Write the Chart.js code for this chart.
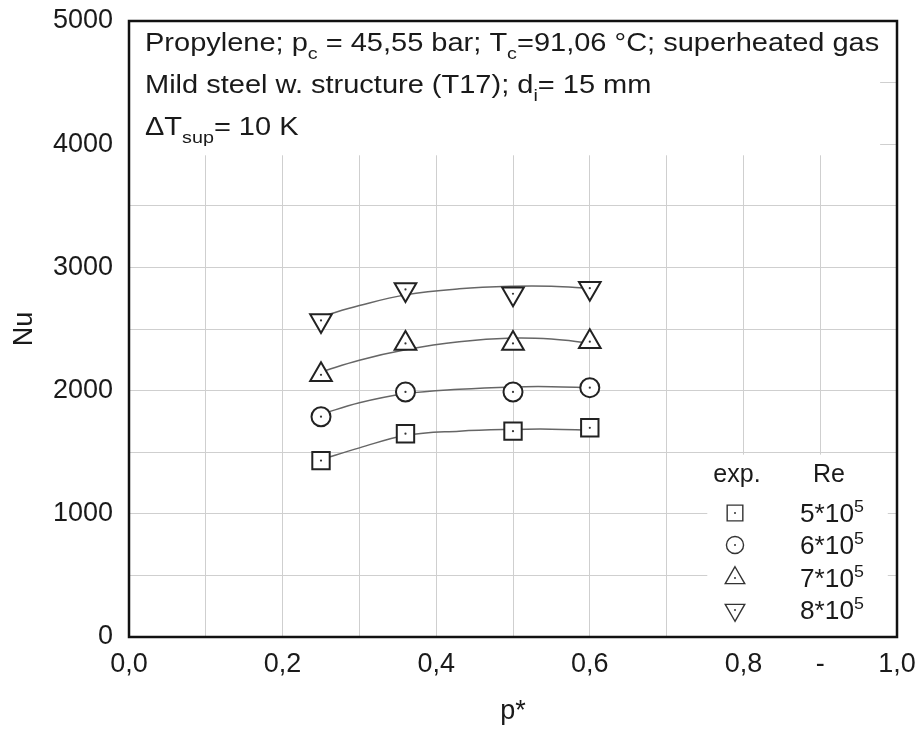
<!DOCTYPE html>
<html>
<head>
<meta charset="utf-8">
<script src="https://cdn.jsdelivr.net/npm/chart.js@4.4.0/dist/chart.umd.min.js"></script>
<style>
  html, body { margin: 0; padding: 0; background: #fff; }
</style>
</head>
<body>
<canvas id="chart" width="920" height="729"></canvas>
<script>
// measured points (p* vs Nu) for each Reynolds number
const pressure = [0.25, 0.36, 0.50, 0.60];
const nuRe5 = [1432, 1650, 1671, 1698];
const nuRe6 = [1788, 1989, 1989, 2024];
const nuRe7 = [2128, 2383, 2383, 2397];
const nuRe8 = [2570, 2821, 2786, 2831];

// fitted curves
const fitX = [0.25, 0.30, 0.36, 0.43, 0.50, 0.55, 0.60];
const fitRe5 = [1440, 1535, 1636, 1671, 1685, 1687, 1679];
const fitRe6 = [1807, 1902, 1975, 2011, 2030, 2032, 2024];
const fitRe7 = [2152, 2247, 2331, 2396, 2426, 2418, 2385];
const fitRe8 = [2600, 2690, 2777, 2826, 2847, 2847, 2831];

const reLabels = ["5*10", "6*10", "7*10", "8*10"];
const xTickLabels = ["0,0", "", "0,2", "", "0,4", "", "0,6", "", "0,8", "-", "1,0"];
const yTickLabels = ["0", "", "1000", "", "2000", "", "3000", "", "4000", "", "5000"];

const FONT = '"Liberation Sans", Arial, Helvetica, sans-serif';
const INK = "#1a1a1a";

const markerStyles = [
  { style: "rect", radius: 12.3, rotation: 0 },
  { style: "circle", radius: 9.5, rotation: 0 },
  { style: "triangle", radius: 12.5, rotation: 0 },
  { style: "triangle", radius: 12.5, rotation: 180 }
];

const toPts = (xs, ys) => xs.map((x, i) => ({ x: x, y: ys[i] }));

function markerSet(values, m) {
  return {
    type: "scatter",
    data: toPts(pressure, values),
    pointStyle: m.style,
    pointRadius: m.radius,
    pointRotation: m.rotation,
    pointBackgroundColor: "#fff",
    pointBorderColor: "#222",
    pointBorderWidth: 2,
    showLine: false,
    order: 0,
    isMarker: true
  };
}

function fitSet(values) {
  return {
    type: "line",
    data: toPts(fitX, values),
    borderColor: "#666",
    borderWidth: 1.5,
    pointRadius: 0,
    tension: 0.4,
    fill: false,
    order: 1
  };
}

// draws text pieces with sub/superscripts, sx widens the glyphs
function drawRich(ctx, parts, x, y, size, sx) {
  ctx.save();
  ctx.translate(x, y);
  ctx.scale(sx || 1, 1);
  ctx.textAlign = "left";
  ctx.textBaseline = "alphabetic";
  let cx = 0;
  parts.forEach(p => {
    let s = size, dy = 0;
    if (p[1] === "sub") { s = size * 0.68; dy = size * 0.3; }
    if (p[1] === "sup") { s = size * 0.68; dy = -size * 0.42; }
    ctx.font = s + "px " + FONT;
    ctx.fillText(p[0], cx, dy);
    cx += ctx.measureText(p[0]).width;
  });
  ctx.restore();
}

const boxesPlugin = {
  id: "boxes",
  beforeDatasetsDraw(chart) {
    const ctx = chart.ctx, a = chart.chartArea;
    const xs = chart.scales.x, ys = chart.scales.y;
    ctx.save();
    ctx.fillStyle = "#fff";
    // header box and legend box hide the grid
    ctx.fillRect(a.left, a.top, xs.getPixelForValue(0.978) - a.left, ys.getPixelForValue(3910) - a.top);
    const lx = xs.getPixelForValue(0.753), rx = xs.getPixelForValue(0.988);
    const ty = ys.getPixelForValue(1480);
    ctx.fillRect(lx, ty, rx - lx, a.bottom - ty);
    ctx.restore();
  },
  afterDatasetsDraw(chart) {
    const ctx = chart.ctx;
    ctx.save();
    ctx.fillStyle = "#333";
    chart.data.datasets.forEach((ds, i) => {
      if (!ds.isMarker) return;
      chart.getDatasetMeta(i).data.forEach(pt => {
        ctx.beginPath();
        ctx.arc(pt.x, pt.y, 1.1, 0, Math.PI * 2);
        ctx.fill();
      });
    });
    ctx.restore();
  },
  afterDraw(chart) {
    const ctx = chart.ctx, a = chart.chartArea;
    ctx.save();
    // frame
    ctx.strokeStyle = "#111";
    ctx.lineWidth = 2.5;
    ctx.strokeRect(a.left, a.top, a.right - a.left, a.bottom - a.top);

    // header text
    ctx.fillStyle = INK;
    const hx = a.left + 16;
    drawRich(ctx, [["Propylene; p", "n"], ["c", "sub"], [" = 45,55 bar; T", "n"], ["c", "sub"], ["=91,06 °C; superheated gas", "n"]], hx, a.top + 30, 25, 1.16);
    drawRich(ctx, [["Mild steel w. structure (T17); d", "n"], ["i", "sub"], ["= 15 mm", "n"]], hx, a.top + 72, 25, 1.16);
    drawRich(ctx, [["\u0394T", "n"], ["sup", "sub"], ["= 10 K", "n"]], hx, a.top + 114, 25, 1.16);

    // legend
    const mx = 735, tx = 800;
    const rows = [513, 545, 578, 610];
    ctx.font = "25px " + FONT;
    ctx.textAlign = "center";
    ctx.textBaseline = "middle";
    ctx.fillText("exp.", 737, 475);
    ctx.fillText("Re", 829, 475);
    rows.forEach((ry, i) => {
      const m = markerStyles[i];
      ctx.strokeStyle = "#333";
      ctx.fillStyle = "#fff";
      ctx.lineWidth = 1.4;
      Chart.helpers.drawPoint(ctx, { pointStyle: m.style, radius: m.radius * 0.9, rotation: m.rotation, borderWidth: 1.4 }, mx, ry);
      ctx.fillStyle = "#333";
      ctx.beginPath();
      ctx.arc(mx, ry, 1, 0, Math.PI * 2);
      ctx.fill();
      ctx.fillStyle = INK;
      drawRich(ctx, [[reLabels[i], "n"], ["5", "sup"]], tx, ry + 9, 25, 1.05);
    });
    ctx.restore();
  }
};

new Chart(document.getElementById("chart"), {
  data: {
    datasets: [
      markerSet(nuRe5, markerStyles[0]),
      markerSet(nuRe6, markerStyles[1]),
      markerSet(nuRe7, markerStyles[2]),
      markerSet(nuRe8, markerStyles[3]),
      fitSet(fitRe5),
      fitSet(fitRe6),
      fitSet(fitRe7),
      fitSet(fitRe8)
    ]
  },
  options: {
    responsive: false,
    animation: false,
    layout: { padding: { top: 21, right: 23, left: 0, bottom: 0 } },
    plugins: { legend: { display: false }, tooltip: { enabled: false } },
    scales: {
      x: {
        type: "linear",
        min: 0,
        max: 1,
        afterFit: s => { s.height = 92; s.paddingLeft = 0; s.paddingRight = 0; },
        afterBuildTicks: s => { s.ticks = xTickLabels.map((_, i) => ({ value: i / 10 })); },
        ticks: {
          color: INK,
          padding: 11,
          font: { family: FONT, size: 27 },
          callback: (v) => xTickLabels[Math.round(v * 10)]
        },
        grid: { color: "#cfcfcf", lineWidth: 1, drawTicks: false },
        border: { display: false },
        title: { display: true, text: "p*", color: INK, font: { family: FONT, size: 27 }, padding: { top: 0, bottom: 1 } }
      },
      y: {
        type: "linear",
        min: 0,
        max: 5000,
        afterFit: s => { s.width = 129; s.paddingTop = 0; s.paddingBottom = 0; },
        afterBuildTicks: s => { s.ticks = yTickLabels.map((_, i) => ({ value: i * 500 })); },
        ticks: {
          color: INK,
          padding: 16,
          font: { family: FONT, size: 27 },
          callback: (v) => yTickLabels[Math.round(v / 500)]
        },
        grid: { color: "#cfcfcf", lineWidth: 1, drawTicks: false },
        border: { display: false },
        title: { display: true, text: "Nu", color: INK, font: { family: FONT, size: 27 }, padding: { top: 8, bottom: 0 } }
      }
    }
  },
  plugins: [boxesPlugin]
});
</script>
</body>
</html>
